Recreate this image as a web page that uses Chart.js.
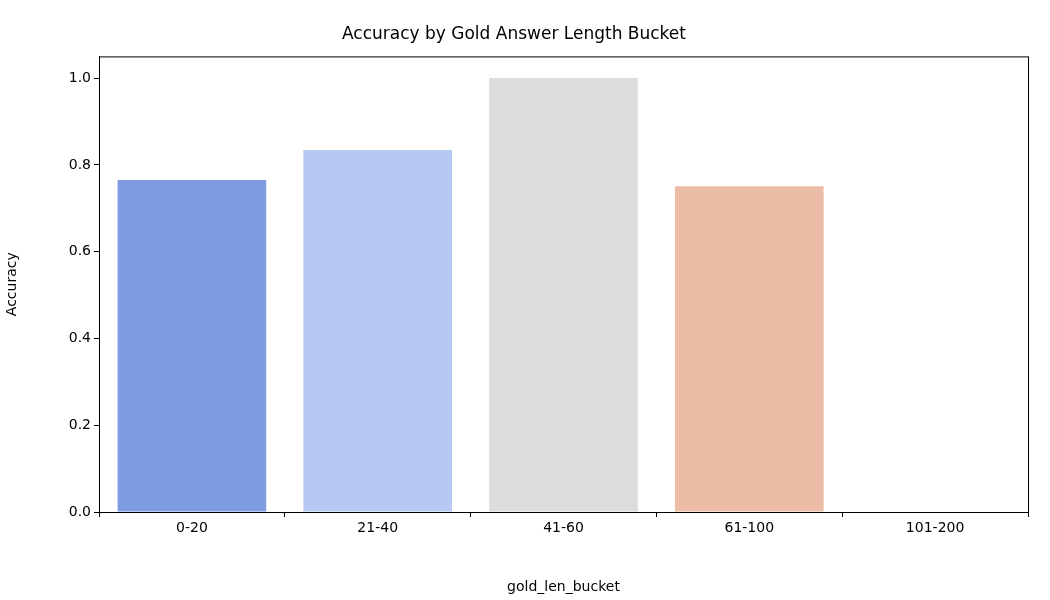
<!DOCTYPE html>
<html>
<head>
<meta charset="utf-8">
<script src="https://cdn.jsdelivr.net/npm/chart.js@4"></script>
<style>body{margin:0;background:#fff}</style>
</head>
<body>
<canvas id="c" width="1050" height="600"></canvas>
<script>
const categories = ['0-20', '21-40', '41-60', '61-100', '101-200'];
const accuracy = [0.765, 0.834, 1.0, 0.751, 0];
const barColors = ['#7f9ce3', '#b5c9f3', '#dcdcdc', '#ecbca6', '#f08a6c'];
const yTicks = [0, 0.2, 0.4, 0.6, 0.8, 1.0];

Chart.defaults.font.family = 'DejaVu Sans';
Chart.defaults.color = 'black';

// box around the plot area, like matplotlib spines
const frame = {
    id: 'frame',
    afterDraw(chart) {
        const { ctx, chartArea: a } = chart;
        ctx.save();
        ctx.strokeStyle = 'black';
        ctx.lineWidth = 1;
        ctx.strokeRect(a.left + 0.5, a.top + 0.5, a.right - a.left, a.bottom - a.top);
        ctx.restore();
    }
};

new Chart(document.getElementById('c'), {
    type: 'bar',
    data: {
        labels: categories,
        datasets: [{ data: accuracy, backgroundColor: barColors }]
    },
    options: {
        responsive: false,
        animation: false,
        devicePixelRatio: 1,
        layout: { padding: { left: 0, right: 22, top: 0, bottom: 0 } },
        plugins: {
            legend: { display: false },
            tooltip: { enabled: false },
            title: {
                display: true,
                text: 'Accuracy by Gold Answer Length Bucket',
                font: { size: 17, weight: 'normal' },
                color: 'black',
                padding: { top: 24, bottom: 12 }
            }
        },
        datasets: { bar: { categoryPercentage: 0.8, barPercentage: 1 } },
        scales: {
            x: {
                grid: { drawOnChartArea: false, tickLength: 5, color: 'black' },
                border: { color: 'black' },
                ticks: { font: { size: 14 }, padding: 3 },
                title: { display: true, text: 'gold_len_bucket', font: { size: 14 }, padding: { top: 4 } },
                afterFit(s) { s.height = 88; }
            },
            y: {
                min: 0,
                max: 1.05,
                afterBuildTicks(s) { s.ticks = yTicks.map(v => ({ value: v })); },
                grid: { drawOnChartArea: false, tickLength: 5, color: 'black' },
                border: { color: 'black' },
                ticks: { font: { size: 14 }, padding: 3, callback: v => v.toFixed(1) },
                title: { display: true, text: 'Accuracy', font: { size: 14 } },
                afterFit(s) { s.width = 99; }
            }
        }
    },
    plugins: [frame]
});
</script>
</body>
</html>
